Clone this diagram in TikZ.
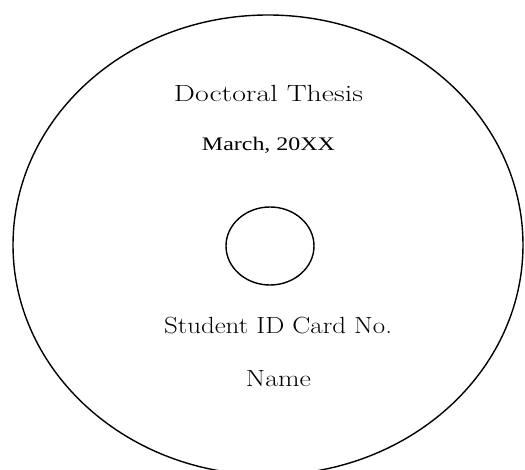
\documentclass[tikz,border=0pt]{standalone}
\usepackage{graphicx}
\usepackage{fontspec}
\newfontfamily\timesfont{Liberation Serif}
\newcommand\fitto[2]{\resizebox{#1}{\height}{#2}}
\tikzset{
  disc/.style={draw=black, line width=1.4pt},
  label/.style={inner sep=0pt, anchor=base, text=black},
  bigtext/.style={label, font=\fontsize{23.4}{28}\selectfont},
  smalltext/.style={label, font=\timesfont\fontsize{19.2}{23}\selectfont}
}
\begin{document}
\begin{tikzpicture}[x=1pt, y=-1pt]
\useasboundingbox (0,0) rectangle (525,470);
\begin{scope}
\clip (0,0) rectangle (525,470);
\draw[disc] (268,245) ellipse [x radius=255, y radius=230];
\end{scope}
\draw[disc] (270,246) ellipse [x radius=44, y radius=39];
\node[bigtext] (title) at (268.5,102) {\fitto{189pt}{Doctoral Thesis}};
\node[smalltext] (date) at (268.5,151) {\fitto{133pt}{March, 20XX}};
\node[bigtext] (id) at (278,334) {\fitto{228pt}{Student ID Card No.}};
\node[bigtext] (name) at (278.5,386) {\fitto{65pt}{Name}};
\end{tikzpicture}
\end{document}
